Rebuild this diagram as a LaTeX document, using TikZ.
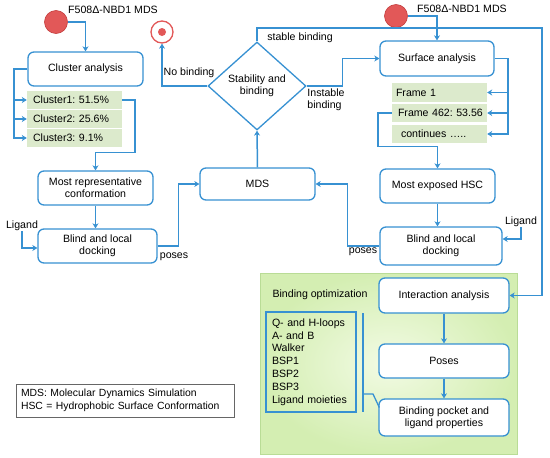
\documentclass[tikz,border=0pt]{standalone}
\usepackage{fontspec}
\setmainfont{Liberation Sans}
\usetikzlibrary{arrows.meta,shapes.geometric,calc}
\definecolor{lb}{RGB}{55,145,210}
\definecolor{gfill}{RGB}{220,234,204}
\definecolor{rfill}{RGB}{226,88,88}
\definecolor{redge}{RGB}{196,60,60}
\definecolor{pin}{RGB}{242,251,228}
\definecolor{pout}{RGB}{212,238,178}
\definecolor{pedge}{RGB}{185,220,150}
\frenchspacing
\begin{document}
\begin{tikzpicture}[x=1pt,y=-1pt,
  font=\fontsize{10.6}{12.4}\selectfont,
  box/.style={draw=lb, line width=1.3pt, rounded corners=6pt, fill=white, align=center, inner sep=0pt},
  gbox/.style={fill=gfill, inner ysep=0pt, inner xsep=4pt, text width=87pt, minimum height=18pt, align=left},
  conn/.style={draw=lb, line width=1.5pt, -{Stealth[length=5pt,width=6pt,inset=1.5pt]}},
  lbl/.style={inner sep=0pt, align=left},
  redc/.style={circle, fill=rfill, draw=redge, line width=0.6pt, minimum size=23pt, inner sep=0pt}
]
\useasboundingbox (0,0) rectangle (550,458);

% panel
\node[draw=pedge, line width=0.8pt, inner color=pin, outer color=pout, minimum width=257pt, minimum height=181pt, inner sep=0pt] (panel) at (388.5,363.5) {};

% start circles
\node[redc] (c1) at (56,22) {};
\node[lbl] (t1) at (113,10) {F508Δ-NBD1 MDS};
\node[redc] (c2) at (396,16) {};
\node[lbl] (t2) at (462,9) {F508Δ-NBD1 MDS};

% target
\node[circle, draw=rfill, line width=1.3pt, fill=white, minimum size=22pt, inner sep=0pt] (target) at (162,32) {};
\node[circle, fill=rfill, minimum size=8pt, inner sep=0pt] (dot) at (target.center) {};

% left column
\node[box, minimum width=115pt, minimum height=34pt] (cluster) at (85.5,69) {Cluster analysis};
\node[gbox] (cl1) at (74.5,100) {\hspace{2pt}Cluster1: 51.5\%};
\node[gbox] (cl2) at (74.5,119) {\hspace{2pt}Cluster2: 25.6\%};
\node[gbox] (cl3) at (74.5,138) {\hspace{2pt}Cluster3: 9.1\%};
\node[box, minimum width=115pt, minimum height=34pt] (mostrep) at (95.5,188) {Most representative\\conformation};
\node[box, minimum width=119pt, minimum height=34pt] (blindL) at (97.5,246) {Blind and local\\docking};
\node[lbl] (ligL) at (22,226) {Ligand};
\node[lbl] (posesL) at (174,257) {poses};

% center
\node[box, minimum width=115pt, minimum height=32pt] (mds) at (257.5,184) {MDS};
\node[diamond, draw=lb, line width=1.3pt, fill=white, align=center, inner sep=0pt, minimum width=98pt, minimum height=88pt] (dia) at (257,86) {Stability and\\binding};
\node[lbl] (nob) at (189,73) {No binding};
\node[lbl] (stb) at (300,38) {stable binding};
\node[lbl] (instb) at (326,100) {Instable\\binding};

% right column
\node[box, minimum width=114pt, minimum height=35pt] (surface) at (437,58.5) {Surface analysis};
\node[gbox, minimum height=19pt] (fr1) at (439.5,92.5) {Frame 1};
\node[gbox] (fr2) at (439.5,113) {\hspace{2pt}Frame 462: 53.56};
\node[gbox] (fr3) at (439.5,134) {\hspace{5pt}continues …..};
\node[box, minimum width=115pt, minimum height=34pt] (hsc) at (437.5,186) {Most exposed HSC};
\node[box, minimum width=122pt, minimum height=38pt] (blindR) at (441,246) {Blind and local\\docking};
\node[lbl] (ligR) at (521,222) {Ligand};
\node[lbl] (posesR) at (363,252) {poses};

% panel content
\node[lbl] (bopt) at (320,295) {Binding optimization};
\node[box, minimum width=130pt, minimum height=35pt] (inter) at (444,295.5) {Interaction analysis};
\node[box, minimum width=130pt, minimum height=34pt] (poses) at (444,361) {Poses};
\node[box, minimum width=130pt, minimum height=37pt] (pocket) at (444,417.5) {Binding pocket and\\ligand properties};
\node[draw=lb, line width=1.3pt, text width=78pt, inner xsep=6pt, minimum height=100pt, align=left, font=\fontsize{10.6}{12.8}\selectfont] (list) at (311,362)
  {Q- and H-loops\\A- and B\\Walker\\BSP1\\BSP2\\BSP3\\Ligand moieties};

% legend
\node[draw=gray!80!black, line width=0.8pt, minimum width=218pt, minimum height=33pt, text width=208pt, align=left, inner xsep=5pt, font=\fontsize{10.4}{12.4}\selectfont] (legend) at (125,400.5)
  {MDS: Molecular Dynamics Simulation\\HSC = Hydrophobic Surface Conformation};

% coordinates
\coordinate (bl) at (14,0);
\coordinate (sb) at (542,28);
\coordinate (sr) at (508,0);
\coordinate (brT) at (363,313);
\coordinate (brB) at (363,412);
\coordinate (brM) at (363,394);
\coordinate (brK) at (373,394);

% connectors left
\draw[conn] (c1.east) -| (cluster.north);
\draw[conn] (cluster.west) -| (bl |- cl3.west) -- (cl3.west);
\draw[conn] (bl |- cl1.west) -- (cl1.west);
\draw[conn] (bl |- cl2.west) -- (cl2.west);
\draw[conn] (cl1.east) -- ++(13,0) |- ($(mostrep.north)+(0,-18)$) -- (mostrep.north);
\draw[conn] (mostrep.south) -- (mostrep.south |- blindL.north);
\draw[conn] (ligL.south) |- ($(blindL.west)+(0,2)$);
\draw[conn] (blindL.east) -- ++(21,0) |- (mds.west);

% center
\draw[conn] (mds.north) -- (dia.south);
\draw[conn] (dia.west) -| (target.south);
\draw[conn] (dia.north) |- (sb) |- (inter.east);
\draw[conn] (dia.east) -- ++(36,0) |- (surface.west);

% right
\draw[conn] (c2.east) -| (surface.north);
\draw[conn] (surface.east) -| (sr |- fr3.east) -- (fr3.east);
\draw[conn] (sr |- fr1.east) -- (fr1.east);
\draw[conn] (sr |- fr2.east) -- (fr2.east);
\draw[conn] (fr2.west) -- ++(-14,0) |- ($(hsc.north)+(0,-22)$) -- (hsc.north);
\draw[conn] (hsc.south) -- (hsc.south |- blindR.north);
\draw[conn] (ligR.south) |- ($(blindR.east)+(0,-7)$);
\draw[conn] (blindR.west) -- ++(-32,0) |- (mds.east);

% panel
\draw[conn] (inter.south) -- (poses.north);
\draw[conn] (poses.south) -- (pocket.north);
\draw[lb, line width=1.3pt] (brT) -- (brB);
\draw[lb, line width=1.3pt] (brM) -- (brK) -- ($(pocket.west)+(1,-10)$);
\end{tikzpicture}
\end{document}
